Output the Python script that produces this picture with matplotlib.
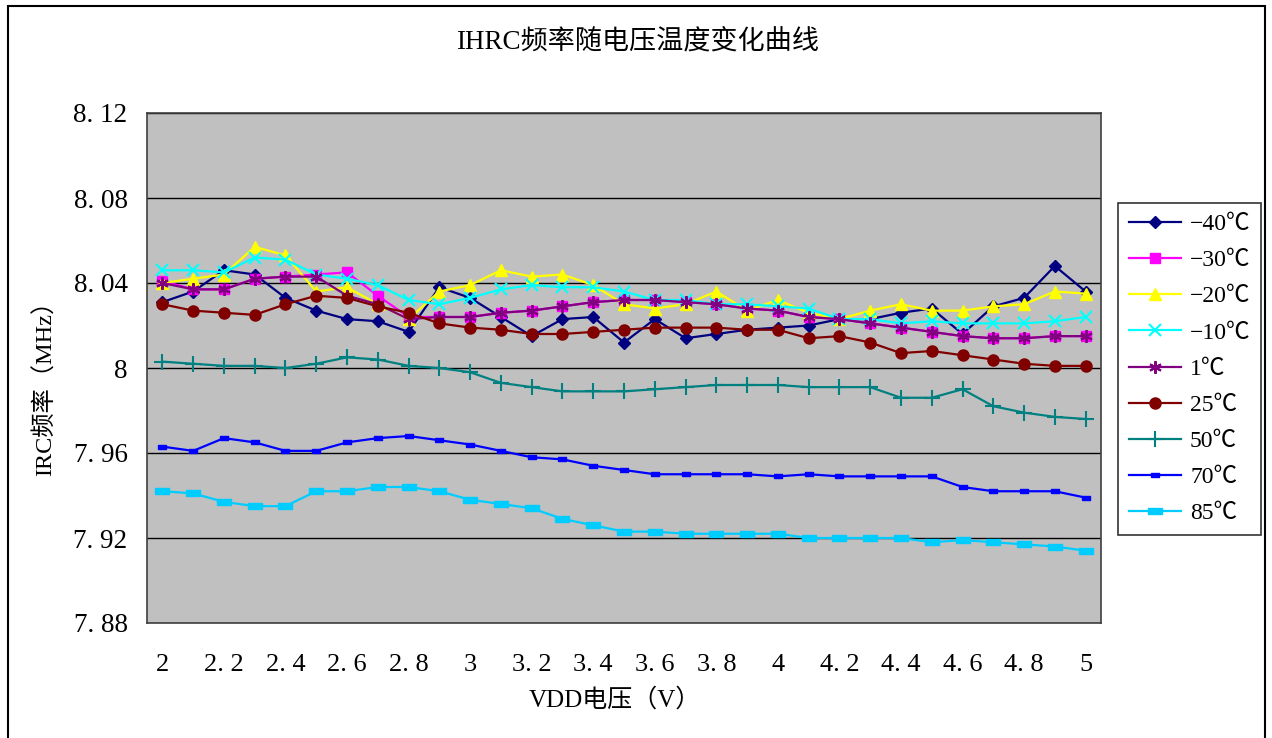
import matplotlib
matplotlib.use('Agg')
import matplotlib.pyplot as plt
from matplotlib.patches import Rectangle

# fonts: serif latin, CJK fallback
plt.rcParams['font.family'] = ['Liberation Serif', 'Noto Sans CJK SC', 'DejaVu Sans']
plt.rcParams['axes.unicode_minus'] = False

# data
vdd = [2.0, 2.1, 2.2, 2.3, 2.4, 2.5, 2.6, 2.7, 2.8, 2.9, 3.0, 3.1, 3.2, 3.3, 3.4, 3.5,
       3.6, 3.7, 3.8, 3.9, 4.0, 4.1, 4.2, 4.3, 4.4, 4.5, 4.6, 4.7, 4.8, 4.9, 5.0]

f_m40 = [8.031, 8.036, 8.046, 8.044, 8.033, 8.027, 8.023, 8.022, 8.017, 8.038, 8.033,
         8.024, 8.015, 8.023, 8.024, 8.012, 8.023, 8.014, 8.016, 8.018, 8.019, 8.020,
         8.023, 8.023, 8.026, 8.028, 8.016, 8.029, 8.033, 8.048, 8.036]
f_m30 = [8.041, 8.037, 8.037, 8.042, 8.043, 8.044, 8.045, 8.034, 8.024, 8.024, 8.024,
         8.026, 8.027, 8.029, 8.031, 8.032, 8.032, 8.031, 8.030, 8.028, 8.027, 8.024,
         8.023, 8.021, 8.019, 8.017, 8.015, 8.014, 8.014, 8.015, 8.015]
f_m20 = [8.040, 8.042, 8.044, 8.057, 8.053, 8.036, 8.038, 8.030, 8.023, 8.036, 8.039,
         8.046, 8.043, 8.044, 8.039, 8.030, 8.028, 8.030, 8.036, 8.027, 8.032, 8.026,
         8.023, 8.027, 8.030, 8.027, 8.027, 8.029, 8.030, 8.036, 8.035]
f_m10 = [8.046, 8.046, 8.045, 8.052, 8.051, 8.044, 8.042, 8.039, 8.032, 8.030, 8.033,
         8.037, 8.039, 8.038, 8.038, 8.036, 8.032, 8.032, 8.030, 8.030, 8.029, 8.028,
         8.023, 8.023, 8.021, 8.022, 8.021, 8.021, 8.021, 8.022, 8.024]
f_1 = [8.040, 8.037, 8.037, 8.042, 8.043, 8.043, 8.034, 8.030, 8.023, 8.024, 8.024,
       8.026, 8.027, 8.029, 8.031, 8.032, 8.032, 8.031, 8.030, 8.028, 8.027, 8.024,
       8.023, 8.021, 8.019, 8.017, 8.015, 8.014, 8.014, 8.015, 8.015]
f_25 = [8.030, 8.027, 8.026, 8.025, 8.030, 8.034, 8.033, 8.029, 8.026, 8.021, 8.019,
        8.018, 8.016, 8.016, 8.017, 8.018, 8.019, 8.019, 8.019, 8.018, 8.018, 8.014,
        8.015, 8.012, 8.007, 8.008, 8.006, 8.004, 8.002, 8.001, 8.001]
f_50 = [8.003, 8.002, 8.001, 8.001, 8.000, 8.002, 8.005, 8.004, 8.001, 8.000, 7.998,
        7.993, 7.991, 7.989, 7.989, 7.989, 7.990, 7.991, 7.992, 7.992, 7.992, 7.991,
        7.991, 7.991, 7.986, 7.986, 7.990, 7.982, 7.979, 7.977, 7.976]
f_70 = [7.963, 7.961, 7.967, 7.965, 7.961, 7.961, 7.965, 7.967, 7.968, 7.966, 7.964,
        7.961, 7.958, 7.957, 7.954, 7.952, 7.950, 7.950, 7.950, 7.950, 7.949, 7.950,
        7.949, 7.949, 7.949, 7.949, 7.944, 7.942, 7.942, 7.942, 7.939]
f_85 = [7.942, 7.941, 7.937, 7.935, 7.935, 7.942, 7.942, 7.944, 7.944, 7.942, 7.938,
        7.936, 7.934, 7.929, 7.926, 7.923, 7.923, 7.922, 7.922, 7.922, 7.922, 7.920,
        7.920, 7.920, 7.920, 7.918, 7.919, 7.918, 7.917, 7.916, 7.914]

labels = ['−40℃', '−30℃', '−20℃', '−10℃', '1℃', '25℃', '50℃', '70℃', '85℃']
series = [f_m40, f_m30, f_m20, f_m10, f_1, f_25, f_50, f_70, f_85]

yticks = [7.88, 7.92, 7.96, 8.00, 8.04, 8.08, 8.12]
ytick_labels = ['7. 88', '7. 92', '7. 96', '8', '8. 04', '8. 08', '8. 12']
xticks = [2.0, 2.2, 2.4, 2.6, 2.8, 3.0, 3.2, 3.4, 3.6, 3.8, 4.0, 4.2, 4.4, 4.6, 4.8, 5.0]
xtick_labels = ['2', '2. 2', '2. 4', '2. 6', '2. 8', '3', '3. 2', '3. 4', '3. 6',
                '3. 8', '4', '4. 2', '4. 4', '4. 6', '4. 8', '5']

# styles
rect = [(-1, -0.45), (1, -0.45), (1, 0.45), (-1, 0.45), (-1, -0.45)]
styles = [
    dict(color='#000080', marker='D', ms=6.5),
    dict(color='#FF00FF', marker='s', ms=7),
    dict(color='#FFFF00', marker='^', ms=9),
    dict(color='#00FFFF', marker='x', ms=8, mew=1.5),
    dict(color='#800080', marker=(6, 2, 0), ms=9, mew=1.5),
    dict(color='#800000', marker='o', ms=8),
    dict(color='#008080', marker='+', ms=11, mew=1.5),
    dict(color='#0000FF', marker=rect, ms=6),
    dict(color='#00CCFF', marker=rect, ms=10),
]

fig = plt.figure(figsize=(12.72, 7.38), dpi=100)
ax = fig.add_axes([147 / 1272, 1 - 623 / 738, 954 / 1272, 510 / 738])
ax.set_facecolor('#C0C0C0')

for ys, lab, st in zip(series, labels, styles):
    ax.plot(vdd, ys, label=lab, lw=1.6, color=st['color'], marker=st['marker'],
            markersize=st['ms'], markeredgewidth=st.get('mew', 1),
            markerfacecolor=st['color'], markeredgecolor=st['color'])

ax.set_xlim(1.95, 5.05)
ax.set_ylim(7.88, 8.12)
ax.set_yticks(yticks)
ax.set_yticklabels(ytick_labels, fontsize=19.5)
ax.set_xticks(xticks)
ax.set_xticklabels(xtick_labels, fontsize=19)
ax.tick_params(axis='both', length=0)
ax.tick_params(axis='x', pad=22)
ax.tick_params(axis='y', pad=14)
ax.yaxis.grid(True, color='black', lw=1)
ax.set_axisbelow(True)
for sp in ax.spines.values():
    sp.set_color('#404040')
    sp.set_linewidth(1.2)

fig.text(45 / 1272, 1 - 382 / 738, 'IRC频率（MHz）', rotation=90, fontsize=17.5,
         ha='center', va='center')
fig.text(615 / 1272, 1 - 700 / 738, 'VDD电压（V）', fontsize=18, ha='center', va='center')
fig.text(638 / 1272, 1 - 42 / 738, 'IHRC频率随电压温度变化曲线', fontsize=19.5,
         ha='center', va='center')

leg = fig.legend(loc='upper left', bbox_to_anchor=(1118 / 1272, 1 - 203 / 738),
                 fontsize=17, frameon=True, fancybox=False, edgecolor='black',
                 handlelength=2.2, labelspacing=0.62, borderpad=0.45, handletextpad=0.4,
                 borderaxespad=0)
leg.get_frame().set_linewidth(1.2)

# outer chart border
fig.patches.append(Rectangle((8 / 1272, -0.02), 1257 / 1272, 1 - 6 / 738 + 0.02,
                             transform=fig.transFigure, fill=False,
                             edgecolor='black', lw=1.5))

fig.savefig('out.png', dpi=100)
